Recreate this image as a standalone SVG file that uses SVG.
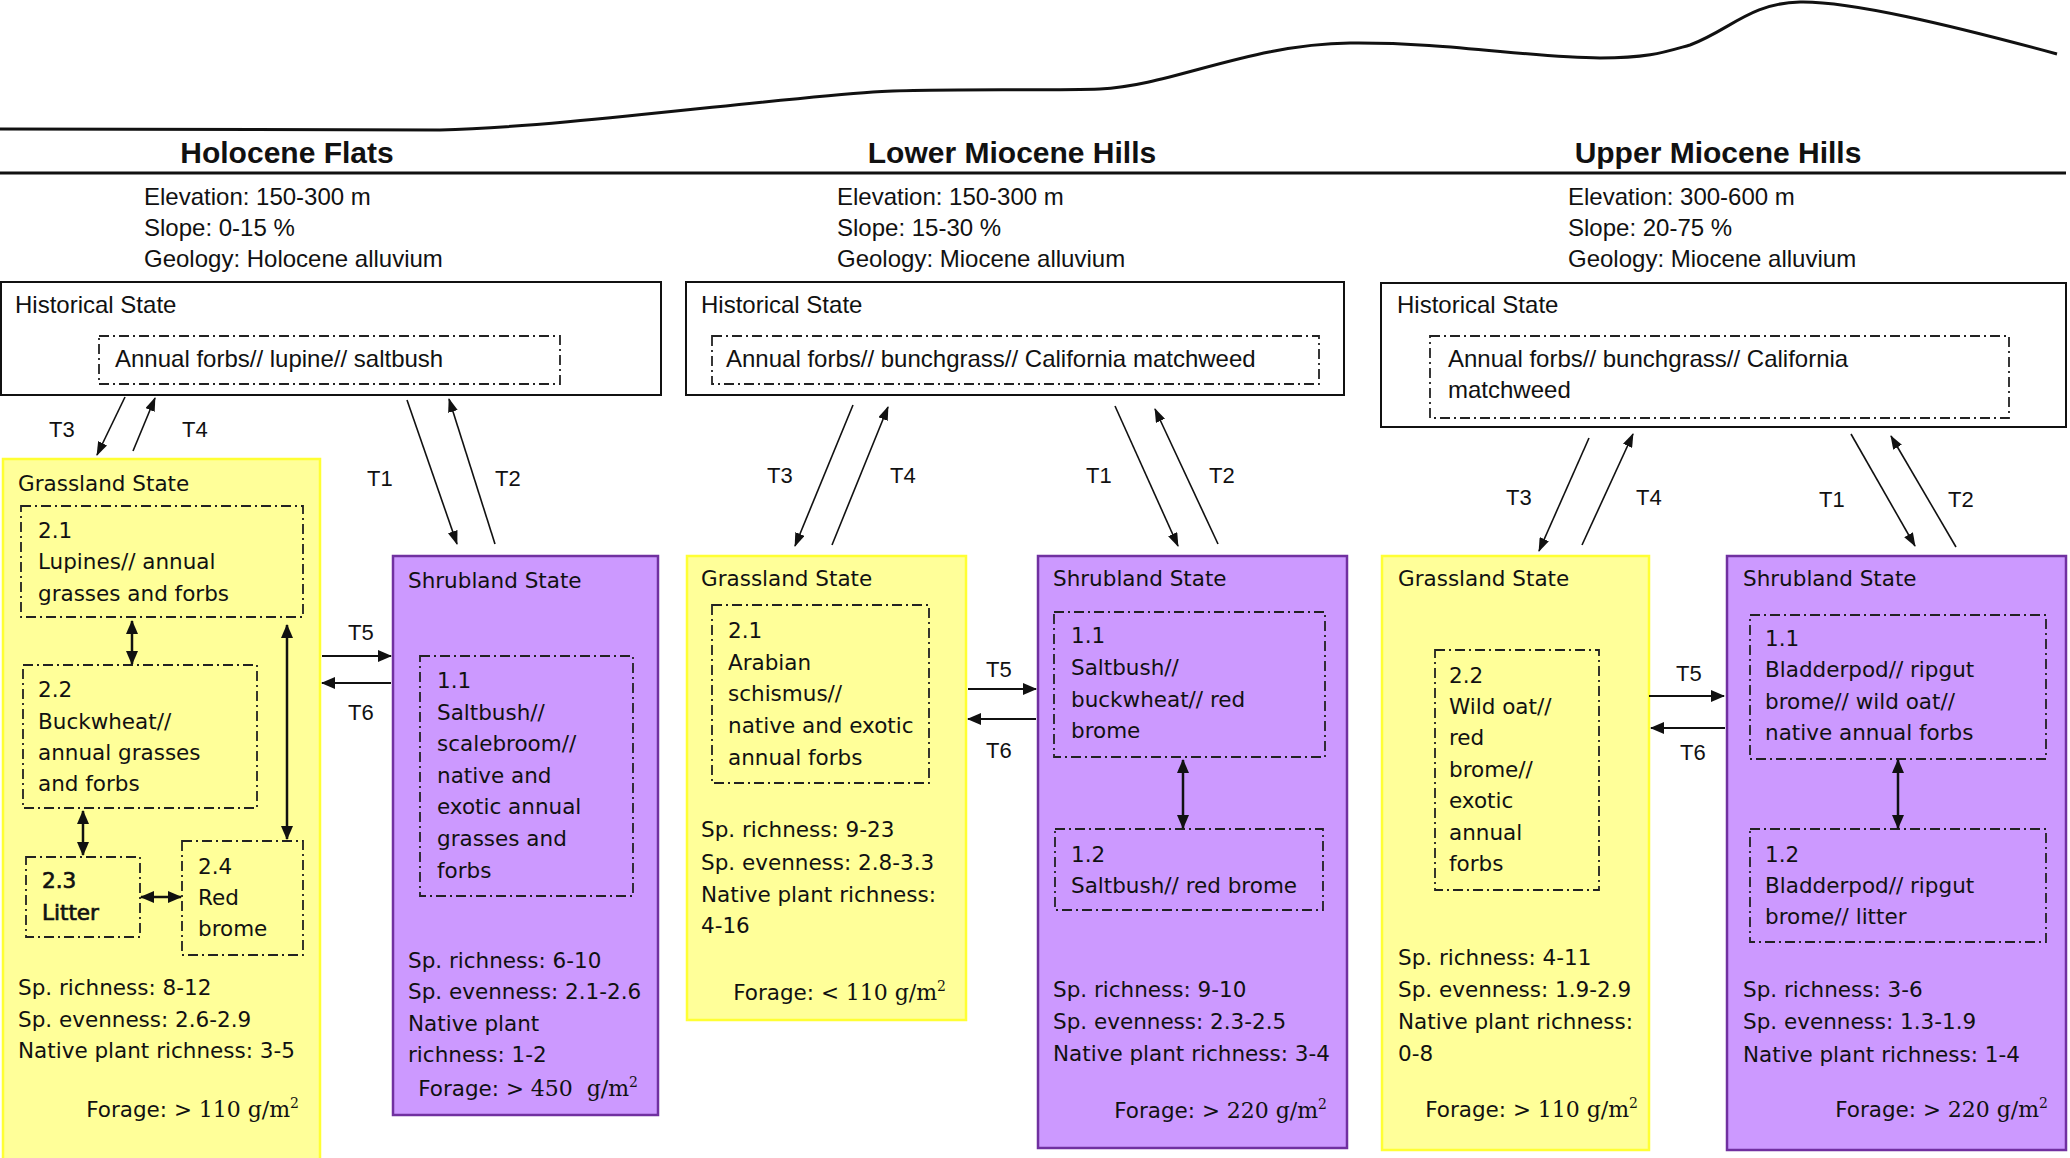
<svg xmlns="http://www.w3.org/2000/svg" width="2070" height="1158" viewBox="0 0 2070 1158">
<style>
.title{font-family:"Liberation Sans",Arial,sans-serif;font-weight:bold;font-size:30px;fill:#111;text-anchor:middle}
.hdr{font-family:"Liberation Sans",Arial,sans-serif;font-size:24px;fill:#111}
.tl{font-family:"Liberation Sans",Arial,sans-serif;font-size:22px;fill:#111}
.bx{font-family:"DejaVu Sans",Verdana,sans-serif;font-size:21.5px;fill:#111}
.fr{font-family:"DejaVu Sans",Verdana,sans-serif;font-size:21.5px;fill:#111;text-anchor:end}
.sf{font-family:"DejaVu Serif",serif;font-size:22px}
.sup{font-family:"DejaVu Serif",serif;font-size:14px}
.semi{stroke:#111;stroke-width:0.7}
.hist{fill:#fff;stroke:#111;stroke-width:2}
.grass{fill:#FFFF99;stroke:#FFFF33;stroke-width:2.5}
.shrub{fill:#CC99FF;stroke:#7030A0;stroke-width:2.5}
.dash{fill:none;stroke:#222;stroke-width:1.8;stroke-dasharray:10 4 2 4}
.thin{fill:none;stroke:#111;stroke-width:1.6;marker-end:url(#ah)}
.mid{fill:none;stroke:#111;stroke-width:2;marker-end:url(#ah2)}
.dbl{fill:none;stroke:#111;stroke-width:2.5;marker-end:url(#ah2);marker-start:url(#ah2)}
</style>
<defs>
<marker id="ah" markerUnits="userSpaceOnUse" markerWidth="14" markerHeight="10" refX="13" refY="5" orient="auto-start-reverse"><path d="M0,0 L14,5 L0,10 z" fill="#111"/></marker>
<marker id="ah2" markerUnits="userSpaceOnUse" markerWidth="14" markerHeight="12" refX="13" refY="6" orient="auto-start-reverse"><path d="M0,0 L14,6 L0,12 z" fill="#111"/></marker>
</defs>
<rect width="2070" height="1158" fill="#fff"/>

<g id="terrain">
<path d="M0,129 C200,130 380,131 440,130 C560,127 760,100 873,92 C930,88 1050,91 1100,89 C1170,86 1250,44 1350,43 C1450,42 1530,58 1600,58 C1650,58 1665,52 1690,45 C1730,30 1750,3 1800,2 C1850,1 1950,25 2057,54" fill="none" stroke="#111" stroke-width="3"/>
<line x1="0" y1="173" x2="2066" y2="173" stroke="#111" stroke-width="3"/>
</g>

<g id="header-holocene">
<text class="title" x="287" y="163">Holocene Flats</text>
<text class="hdr" x="144" y="205">Elevation: 150-300 m</text>
<text class="hdr" x="144" y="236">Slope: 0-15 %</text>
<text class="hdr" x="144" y="267">Geology: Holocene alluvium</text>
</g>
<g id="header-lower">
<text class="title" x="1012" y="163">Lower Miocene Hills</text>
<text class="hdr" x="837" y="205">Elevation: 150-300 m</text>
<text class="hdr" x="837" y="236">Slope: 15-30 %</text>
<text class="hdr" x="837" y="267">Geology: Miocene alluvium</text>
</g>
<g id="header-upper">
<text class="title" x="1718" y="163">Upper Miocene Hills</text>
<text class="hdr" x="1568" y="205">Elevation: 300-600 m</text>
<text class="hdr" x="1568" y="236">Slope: 20-75 %</text>
<text class="hdr" x="1568" y="267">Geology: Miocene alluvium</text>
</g>

<g id="hist-holocene">
<rect class="hist" x="1" y="282" width="660" height="113"/>
<text class="hdr" x="15" y="313">Historical State</text>
<rect class="dash" x="99" y="336" width="461" height="48"/>
<text class="hdr" x="115" y="367">Annual forbs// lupine// saltbush</text>
</g>
<g id="hist-lower">
<rect class="hist" x="686" y="282" width="658" height="113"/>
<text class="hdr" x="701" y="313">Historical State</text>
<rect class="dash" x="712" y="336" width="607" height="48"/>
<text class="hdr" x="726" y="367">Annual forbs// bunchgrass// California matchweed</text>
</g>
<g id="hist-upper">
<rect class="hist" x="1381" y="283" width="685" height="144"/>
<text class="hdr" x="1397" y="313">Historical State</text>
<rect class="dash" x="1430" y="336" width="579" height="82"/>
<text class="hdr" x="1448" y="367">Annual forbs// bunchgrass// California</text>
<text class="hdr" x="1448" y="398">matchweed</text>
</g>

<g id="grass-holocene">
<rect class="grass" x="3" y="459" width="317" height="702"/>
<text class="bx" x="18" y="491">Grassland State</text>
<rect class="dash" x="21" y="506" width="282" height="111"/>
<text class="bx" x="38" y="538">2.1</text>
<text class="bx" x="38" y="569">Lupines// annual</text>
<text class="bx" x="38" y="601">grasses and forbs</text>
<rect class="dash" x="23" y="665" width="234" height="143"/>
<text class="bx" x="38" y="697">2.2</text>
<text class="bx" x="38" y="729">Buckwheat//</text>
<text class="bx" x="38" y="760">annual grasses</text>
<text class="bx" x="38" y="791">and forbs</text>
<rect class="dash" x="26" y="857" width="114" height="80"/>
<text class="bx semi" x="42" y="888">2.3</text>
<text class="bx semi" x="42" y="920">Litter</text>
<rect class="dash" x="182" y="841" width="121" height="114"/>
<text class="bx" x="198" y="874">2.4</text>
<text class="bx" x="198" y="905">Red</text>
<text class="bx" x="198" y="936">brome</text>
<text class="bx" x="18" y="995">Sp. richness: 8-12</text>
<text class="bx" x="18" y="1027">Sp. evenness: 2.6-2.9</text>
<text class="bx" x="18" y="1058">Native plant richness: 3-5</text>
<text class="fr" x="299" y="1117">Forage: &gt; <tspan class="sf">110 g/m</tspan><tspan class="sup" dy="-9">2</tspan></text>
</g>

<g id="shrub-holocene">
<rect class="shrub" x="393" y="556" width="265" height="559"/>
<text class="bx" x="408" y="588">Shrubland State</text>
<rect class="dash" x="420" y="656" width="213" height="240"/>
<text class="bx" x="437" y="688">1.1</text>
<text class="bx" x="437" y="720">Saltbush//</text>
<text class="bx" x="437" y="751">scalebroom//</text>
<text class="bx" x="437" y="783">native and</text>
<text class="bx" x="437" y="814">exotic annual</text>
<text class="bx" x="437" y="846">grasses and</text>
<text class="bx" x="437" y="878">forbs</text>
<text class="bx" x="408" y="968">Sp. richness: 6-10</text>
<text class="bx" x="408" y="999">Sp. evenness: 2.1-2.6</text>
<text class="bx" x="408" y="1031">Native plant</text>
<text class="bx" x="408" y="1062">richness: 1-2</text>
<text class="fr" x="638" y="1096">Forage: &gt; <tspan class="sf">450&#160; g/m</tspan><tspan class="sup" dy="-9">2</tspan></text>
</g>

<g id="grass-lower">
<rect class="grass" x="687" y="556" width="279" height="464"/>
<text class="bx" x="701" y="586">Grassland State</text>
<rect class="dash" x="712" y="605" width="217" height="178"/>
<text class="bx" x="728" y="638">2.1</text>
<text class="bx" x="728" y="670">Arabian</text>
<text class="bx" x="728" y="701">schismus//</text>
<text class="bx" x="728" y="733">native and exotic</text>
<text class="bx" x="728" y="765">annual forbs</text>
<text class="bx" x="701" y="837">Sp. richness: 9-23</text>
<text class="bx" x="701" y="870">Sp. evenness: 2.8-3.3</text>
<text class="bx" x="701" y="902">Native plant richness:</text>
<text class="bx" x="701" y="933">4-16</text>
<text class="fr" x="946" y="1000">Forage: &lt; <tspan class="sf">110 g/m</tspan><tspan class="sup" dy="-9">2</tspan></text>
</g>

<g id="shrub-lower">
<rect class="shrub" x="1038" y="556" width="309" height="592"/>
<text class="bx" x="1053" y="586">Shrubland State</text>
<rect class="dash" x="1054" y="612" width="271" height="145"/>
<text class="bx" x="1071" y="643">1.1</text>
<text class="bx" x="1071" y="675">Saltbush//</text>
<text class="bx" x="1071" y="707">buckwheat// red</text>
<text class="bx" x="1071" y="738">brome</text>
<rect class="dash" x="1055" y="829" width="268" height="81"/>
<text class="bx" x="1071" y="862">1.2</text>
<text class="bx" x="1071" y="893">Saltbush// red brome</text>
<text class="bx" x="1053" y="997">Sp. richness: 9-10</text>
<text class="bx" x="1053" y="1029">Sp. evenness: 2.3-2.5</text>
<text class="bx" x="1053" y="1061">Native plant richness: 3-4</text>
<text class="fr" x="1327" y="1118">Forage: &gt; <tspan class="sf">220 g/m</tspan><tspan class="sup" dy="-9">2</tspan></text>
</g>

<g id="grass-upper">
<rect class="grass" x="1382" y="556" width="267" height="594"/>
<text class="bx" x="1398" y="586">Grassland State</text>
<rect class="dash" x="1435" y="650" width="164" height="240"/>
<text class="bx" x="1449" y="683">2.2</text>
<text class="bx" x="1449" y="714">Wild oat//</text>
<text class="bx" x="1449" y="745">red</text>
<text class="bx" x="1449" y="777">brome//</text>
<text class="bx" x="1449" y="808">exotic</text>
<text class="bx" x="1449" y="840">annual</text>
<text class="bx" x="1449" y="871">forbs</text>
<text class="bx" x="1398" y="965">Sp. richness: 4-11</text>
<text class="bx" x="1398" y="997">Sp. evenness: 1.9-2.9</text>
<text class="bx" x="1398" y="1029">Native plant richness:</text>
<text class="bx" x="1398" y="1061">0-8</text>
<text class="fr" x="1638" y="1117">Forage: &gt; <tspan class="sf">110 g/m</tspan><tspan class="sup" dy="-9">2</tspan></text>
</g>

<g id="shrub-upper">
<rect class="shrub" x="1727" y="556" width="339" height="594"/>
<text class="bx" x="1743" y="586">Shrubland State</text>
<rect class="dash" x="1750" y="615" width="296" height="144"/>
<text class="bx" x="1765" y="646">1.1</text>
<text class="bx" x="1765" y="677">Bladderpod// ripgut</text>
<text class="bx" x="1765" y="709">brome// wild oat//</text>
<text class="bx" x="1765" y="740">native annual forbs</text>
<rect class="dash" x="1750" y="829" width="296" height="113"/>
<text class="bx" x="1765" y="862">1.2</text>
<text class="bx" x="1765" y="893">Bladderpod// ripgut</text>
<text class="bx" x="1765" y="924">brome// litter</text>
<text class="bx" x="1743" y="997">Sp. richness: 3-6</text>
<text class="bx" x="1743" y="1029">Sp. evenness: 1.3-1.9</text>
<text class="bx" x="1743" y="1062">Native plant richness: 1-4</text>
<text class="fr" x="2048" y="1117">Forage: &gt; <tspan class="sf">220 g/m</tspan><tspan class="sup" dy="-9">2</tspan></text>
</g>

<g id="connectors">
<path class="thin" d="M125,397 L97,455"/>
<path class="thin" d="M133,451 L155,398"/>
<path class="thin" d="M407,400 L457,544"/>
<path class="thin" d="M495,544 L449,399"/>
<path class="mid" d="M322,656 L391,656"/>
<path class="mid" d="M391,683 L322,683"/>
<path class="dbl" d="M132,621 L132,664"/>
<path class="dbl" d="M287,625 L287,839"/>
<path class="dbl" d="M83,811 L83,855"/>
<path class="dbl" d="M141,897 L181,897"/>
<path class="thin" d="M853,405 L795,546"/>
<path class="thin" d="M832,545 L888,407"/>
<path class="thin" d="M1115,406 L1178,546"/>
<path class="thin" d="M1218,544 L1155,409"/>
<path class="mid" d="M968,689 L1036,689"/>
<path class="mid" d="M1036,719 L968,719"/>
<path class="dbl" d="M1183,760 L1183,828"/>
<path class="thin" d="M1589,438 L1539,551"/>
<path class="thin" d="M1582,545 L1633,434"/>
<path class="thin" d="M1851,434 L1915,546"/>
<path class="thin" d="M1956,547 L1891,436"/>
<path class="mid" d="M1649,696 L1724,696"/>
<path class="mid" d="M1725,728 L1651,728"/>
<path class="dbl" d="M1898,760 L1898,828"/>
<text class="tl" x="49" y="437">T3</text>
<text class="tl" x="182" y="437">T4</text>
<text class="tl" x="367" y="486">T1</text>
<text class="tl" x="495" y="486">T2</text>
<text class="tl" x="348" y="640">T5</text>
<text class="tl" x="348" y="720">T6</text>
<text class="tl" x="767" y="483">T3</text>
<text class="tl" x="890" y="483">T4</text>
<text class="tl" x="1086" y="483">T1</text>
<text class="tl" x="1209" y="483">T2</text>
<text class="tl" x="986" y="677">T5</text>
<text class="tl" x="986" y="758">T6</text>
<text class="tl" x="1506" y="505">T3</text>
<text class="tl" x="1636" y="505">T4</text>
<text class="tl" x="1819" y="507">T1</text>
<text class="tl" x="1948" y="507">T2</text>
<text class="tl" x="1676" y="681">T5</text>
<text class="tl" x="1680" y="760">T6</text>
</g>
</svg>
